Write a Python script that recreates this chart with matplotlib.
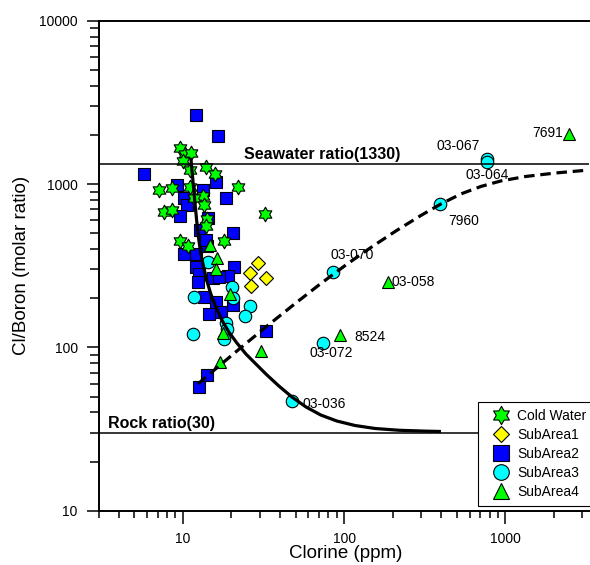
import numpy as np
import matplotlib
matplotlib.use("Agg")
import matplotlib.pyplot as plt
from matplotlib.path import Path
from matplotlib.lines import Line2D
from matplotlib.ticker import LogLocator, FuncFormatter, NullFormatter

plt.rcParams['font.family'] = ['Liberation Sans', 'DejaVu Sans']

# Chloride (ppm) and Cl/B molar ratio for each sample group
cold_cl = [9.58, 10.29, 11.21, 10.0, 11.05, 13.89, 15.79, 22.1, 7.10, 8.55, 11.05,
           13.31, 11.70, 13.50, 7.62, 8.55, 32.3, 14.09, 13.89, 9.58, 10.74, 17.9]
cold_ratio = [1664, 1529, 1551, 1385, 1220, 1273, 1153, 960, 920, 940, 960,
              846, 816, 745, 670, 694, 656, 611, 554, 445, 418, 445]

sub1_cl = [29.1, 26.2, 32.7, 26.4]
sub1_ratio = [329, 287, 265, 238]

sub2_cl = [12.0, 16.5, 5.73, 9.18, 16.0, 13.3, 10.1, 10.6, 18.5, 9.58, 14.3, 12.75,
           20.4, 14.1, 13.9, 10.1, 12.0, 12.0, 20.7, 12.6, 12.4, 15.35, 19.0, 16.7,
           13.5, 16.0, 20.4, 14.5, 17.2, 32.7, 14.1, 12.6]
sub2_ratio = [2650, 1970, 1153, 988, 1030, 920, 822, 745, 822, 638, 620, 524,
              502, 418, 455, 373, 373, 311, 311, 282, 252, 266, 274, 270,
              204, 190, 182, 160, 165, 126, 67.8, 57.2]

sub3_cl = [14.4, 20.3, 11.65, 20.6, 26.2, 24.3, 18.5, 18.9, 11.5, 18.1,
           74.2, 47.2, 84.9, 393, 765, 765]
sub3_ratio = [331, 235, 202, 200, 178.5, 156, 140, 129, 120, 112,
              106, 47.0, 288, 752, 1426, 1355]
sub3_ids = ['', '', '', '', '', '', '', '', '', '',
            '03-072', '03-036', '03-070', '7960', '03-067', '03-064']

sub4_cl = [14.75, 16.4, 16.0, 19.6, 17.7, 30.5, 17.0, 93.9, 188, 2490]
sub4_ratio = [421, 351, 303, 211, 123, 94.6, 81.7, 119, 250, 2027]
sub4_ids = ['', '', '', '', '', '', '', '8524', '03-058', '7691']

# Reference ratios
SEAWATER = 1330
ROCK = 30

# Mixing curve (solid) and trend curve (dashed)
mix_cl = [11.21, 11.54, 11.87, 12.21, 12.57, 12.93, 13.50, 14.09, 14.92, 16.02,
          17.46, 19.29, 21.63, 24.60, 28.38, 33.20, 39.41, 47.45, 57.94, 71.80,
          90.22, 116.7, 155.3, 218.8, 321.7, 398.6]
mix_ratio = [1445, 1060, 777, 586, 455, 373, 306, 255, 212, 177,
             147, 124.3, 106.4, 91.1, 79.1, 67.8, 58.0, 49.7, 43.2, 38.5,
             35.4, 33.25, 31.87, 31.08, 30.69, 30.55]
trend_cl = [12.39, 17.21, 24.60, 35.16, 50.23, 71.80, 102.6, 146.7, 209.6, 299.6,
            398.6, 530.4, 705.8, 939.1, 1342, 2060, 3073]
trend_ratio = [59.7, 78.6, 105.6, 141.1, 187.0, 246.2, 319.6, 409.1, 516.3, 642.3,
               755.2, 869.9, 966.8, 1045, 1113, 1169, 1211]

W, H = 590, 565
fig = plt.figure(figsize=(W / 100, H / 100), dpi=100)
ax = fig.add_axes([98.5 / W, (H - 510.7) / H, (589 - 98.5) / W, (510.7 - 20.7) / H])
ax.set_xscale('log')
ax.set_yscale('log')
ax.set_xlim(3, 3300)
ax.set_ylim(10, 10000)

# six-pointed star marker
k = np.arange(12)
ang = np.deg2rad(90 + 30 * k)
rad = np.where(k % 2 == 0, 1.0, 0.577)
pts = np.column_stack([rad * np.cos(ang), rad * np.sin(ang)])
star = Path(np.vstack([pts, pts[:1]]), closed=True)

ec = dict(markeredgecolor='black', markeredgewidth=0.8, linestyle='none')
styles = {
    'Cold Water': dict(marker=star, markersize=10.5, markerfacecolor='#00ff00', **ec),
    'SubArea1': dict(marker='D', markersize=6.8, markerfacecolor='#ffff00', **ec),
    'SubArea2': dict(marker='s', markersize=9, markerfacecolor='#0000ff', **ec),
    'SubArea3': dict(marker='o', markersize=9, markerfacecolor='#00ffff', **ec),
    'SubArea4': dict(marker='^', markersize=9, markerfacecolor='#00ff00', **ec),
}

ax.plot(sub2_cl, sub2_ratio, zorder=3, **styles['SubArea2'])
ax.plot(sub1_cl, sub1_ratio, zorder=3, **styles['SubArea1'])
ax.plot(sub3_cl, sub3_ratio, zorder=3, **styles['SubArea3'])
ax.plot(sub4_cl, sub4_ratio, zorder=4, **styles['SubArea4'])
ax.plot(cold_cl, cold_ratio, zorder=4, **styles['Cold Water'])

# sample labels, offsets in points from each marker
offsets = {
    '03-067': (-20.2, 9.1, 'center'),
    '03-064': (0.7, -9.1, 'center'),
    '7691': (-4.3, 0.9, 'right'),
    '7960': (6.3, -11.8, 'left'),
    '03-070': (13.9, 12.5, 'center'),
    '03-058': (2.4, 0.4, 'left'),
    '8524': (10.4, -1.7, 'left'),
    '03-072': (5.9, -6.8, 'center'),
    '03-036': (7.9, -2.2, 'left'),
}
for xs, ys, ids in ((sub3_cl, sub3_ratio, sub3_ids), (sub4_cl, sub4_ratio, sub4_ids)):
    for x, y, name in zip(xs, ys, ids):
        if name:
            dx, dy, ha = offsets[name]
            ax.annotate(name, (x, y), xytext=(dx, dy), textcoords='offset points',
                        ha=ha, va='center', fontsize=10, zorder=5)

# reference lines and curves
ax.axhline(SEAWATER, color='black', lw=1.1, zorder=6)
ax.axhline(ROCK, color='black', lw=1.1, zorder=6)
ax.annotate('Seawater ratio(1330)', (24, SEAWATER), xytext=(0, 1.0), textcoords='offset points',
            fontsize=11.5, fontweight='bold', va='bottom', ha='left', zorder=6)
ax.annotate('Rock ratio(30)', (3.46, ROCK), xytext=(0, 1.0), textcoords='offset points',
            fontsize=11.5, fontweight='bold', va='bottom', ha='left', zorder=6)
ax.plot(mix_cl, mix_ratio, color='black', lw=2.3, zorder=7,
        solid_joinstyle='round', solid_capstyle='butt')
ax.plot(trend_cl, trend_ratio, color='black', lw=2.3, zorder=7,
        linestyle=(0, (3.3, 1.8)), dash_capstyle='butt', dash_joinstyle='round')

# axes styling
ax.spines['right'].set_visible(False)
for s in ('left', 'bottom', 'top'):
    ax.spines[s].set_linewidth(1.4)
fmt = FuncFormatter(lambda v, p: f'{v:g}')
for axis in (ax.xaxis, ax.yaxis):
    axis.set_major_locator(LogLocator(base=10))
    axis.set_minor_locator(LogLocator(base=10, subs=np.arange(2, 10)))
    axis.set_major_formatter(fmt)
    axis.set_minor_formatter(NullFormatter())
ax.tick_params(which='both', direction='out', top=False, right=False, width=1.1, labelsize=10)
ax.tick_params(axis='y', which='major', length=8.6, pad=6.3)
ax.tick_params(axis='y', which='minor', length=6.5)
ax.tick_params(axis='x', which='major', length=9.2, pad=6.0)
ax.tick_params(axis='x', which='minor', length=5.0)

ax.set_xlabel('Clorine (ppm)', fontsize=13.5)
ax.set_ylabel('Cl/Boron (molar ratio)', fontsize=13.5)
ax.xaxis.label.set_va('center')
ax.yaxis.label.set_va('center')
ax.xaxis.set_label_coords(0.503, -0.0865)
ax.yaxis.set_label_coords(-0.157, 0.5)

order = ['Cold Water', 'SubArea1', 'SubArea2', 'SubArea3', 'SubArea4']
handles = [Line2D([], [], **styles[n]) for n in order]
leg = fig.legend(handles, order, loc='upper left',
                 bbox_to_anchor=(478.3 / W, 1 - 402.3 / H), bbox_transform=fig.transFigure,
                 fontsize=10, frameon=True, fancybox=False, borderpad=0.5,
                 handlelength=2.2, handletextpad=0.1, labelspacing=0.35,
                 markerscale=1.25, borderaxespad=0)
leg.get_frame().set_edgecolor('black')
leg.get_frame().set_linewidth(0.8)
leg.get_frame().set_alpha(1)

fig.savefig('out.png', dpi=100)
